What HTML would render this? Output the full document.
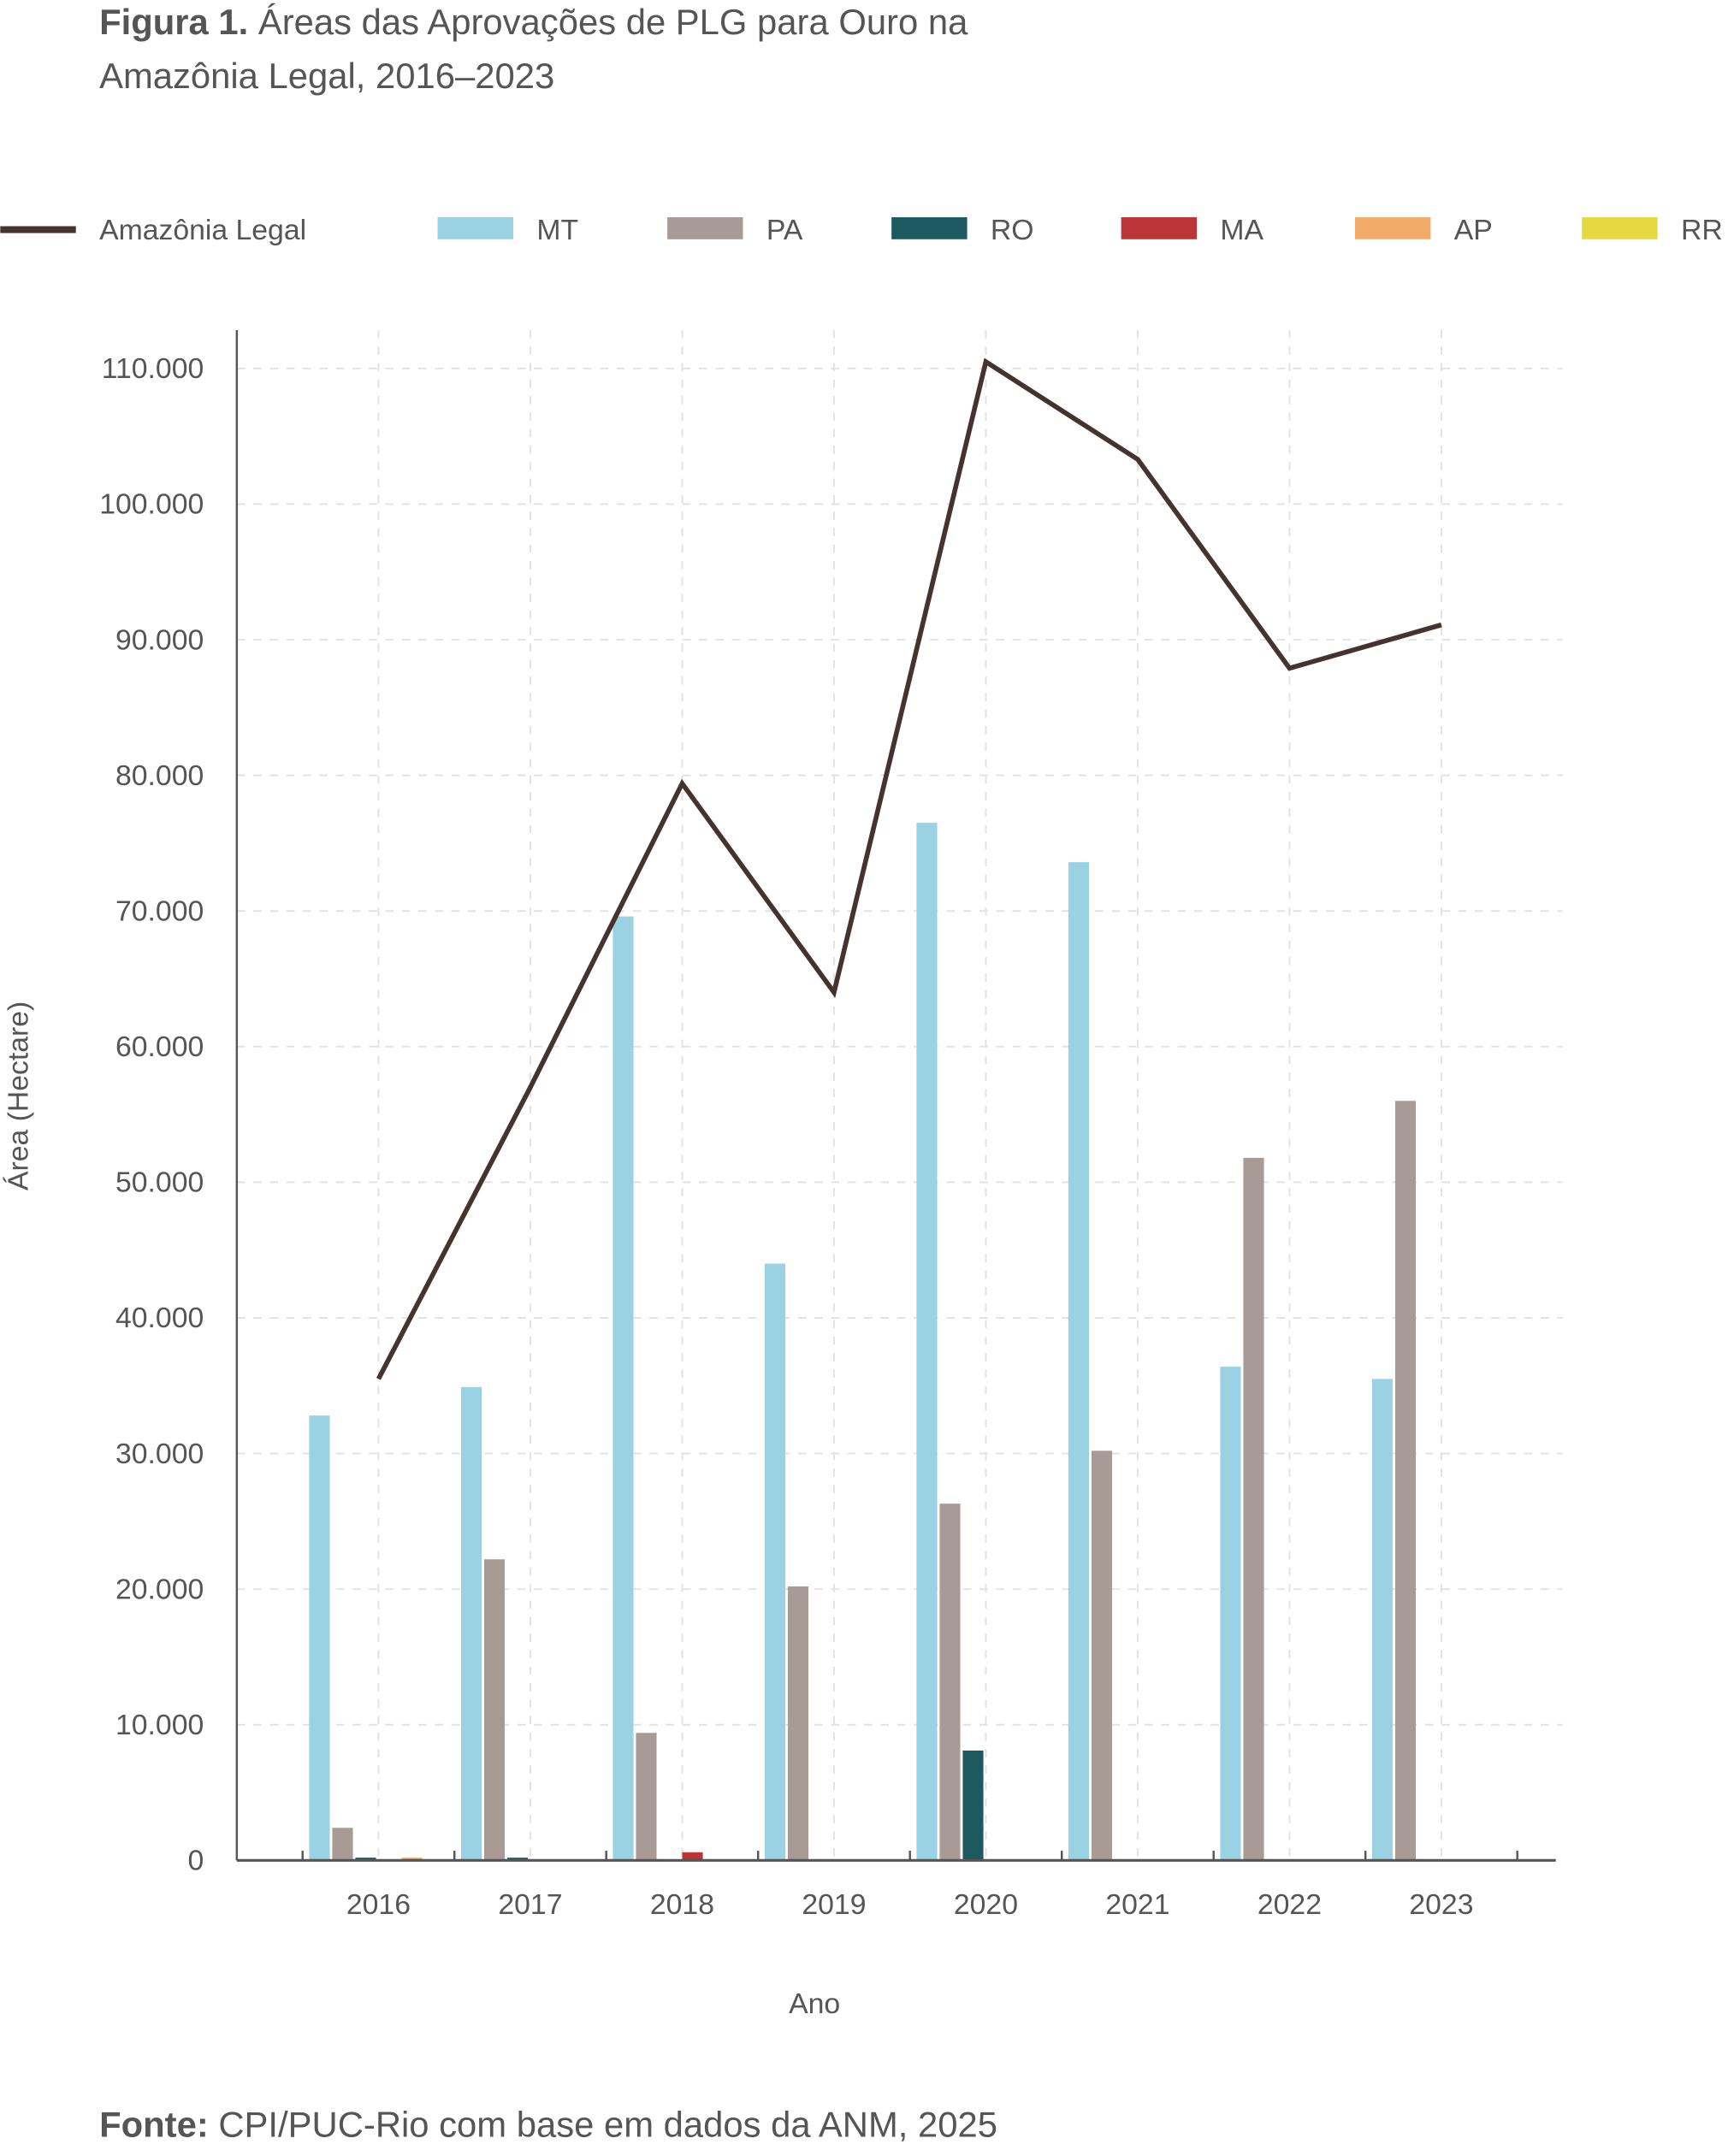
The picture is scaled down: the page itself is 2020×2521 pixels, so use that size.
<!DOCTYPE html>
<html><head><meta charset="utf-8"><style>
html,body{margin:0;padding:0;background:#fff;}
svg{display:block;font-family:"Liberation Sans",sans-serif;}
</style></head><body>
<svg id="chart" width="2020" height="2521" viewBox="0 0 1256 1568" xmlns="http://www.w3.org/2000/svg">
<text x="72" y="25" font-size="26" fill="#555"><tspan font-weight="bold">Figura 1.</tspan> Áreas das Aprovações de PLG para Ouro na</text>
<text x="72" y="64" font-size="26" fill="#555">Amazônia Legal, 2016–2023</text>
<g id="legend"></g>
<g id="grid"></g>
<g id="bars"></g>
<g id="axes"></g>
<g id="line"></g>
<text transform="translate(20,797) rotate(-90)" text-anchor="middle" font-size="21" fill="#555">Área (Hectare)</text>
<text x="592" y="1464" text-anchor="middle" font-size="21" fill="#555">Ano</text>
<text x="72" y="1554" font-size="26" fill="#555"><tspan font-weight="bold">Fonte:</tspan> CPI/PUC-Rio com base em dados da ANM, 2025</text>
</svg>
<script>
const years = ['2016','2017','2018','2019','2020','2021','2022','2023'];
const seriesNames = ['MT','PA','RO','MA','AP','RR'];
const seriesColors = ['#9ad2e4','#a89a95','#1d5a60','#bb3535','#f2ab69','#e5d840'];
const mt = [32800,34900,69600,44000,76500,73600,36400,35500];
const pa = [2400,22200,9400,20200,26300,30200,51800,56000];
const ro = [200,200,0,0,8100,0,0,0];
const ma = [0,0,600,0,0,0,0,0];
const ap = [200,0,0,0,0,0,0,0];
const rr = [0,0,0,0,0,0,0,0];
const total = [35500,57000,79400,64000,110500,103300,87900,91100];
const yTicks = [0,10000,20000,30000,40000,50000,60000,70000,80000,90000,100000,110000];
const yTickLabels = ['0','10.000','20.000','30.000','40.000','50.000','60.000','70.000','80.000','90.000','100.000','110.000'];

const NS='http://www.w3.org/2000/svg';
const y0=1353, y110=268, yMax=110000;
const yScale=v=>y0-(v/yMax)*(y0-y110);
const x0=275, step=110.4;
const xScale=i=>x0+i*step;
const slot=16.8, bw=15;
function mk(tag,attrs,parent){const e=document.createElementNS(NS,tag);for(const k in attrs)e.setAttribute(k,attrs[k]);parent.appendChild(e);return e;}
const grid=document.getElementById('grid'),bars=document.getElementById('bars'),axes=document.getElementById('axes'),lineG=document.getElementById('line'),legend=document.getElementById('legend');
yTicks.forEach((t,i)=>{
  if(t>0){const g=mk('line',{x1:172,x2:1136,y1:yScale(t),y2:yScale(t),stroke:'#e2e2e2','stroke-width':1.2,'stroke-dasharray':'6 6'},grid);
  
  }
  const tx=mk('text',{x:148,y:yScale(t)+7,'text-anchor':'end','font-size':21,fill:'#555'},axes);
  tx.textContent=yTickLabels[i];
  
  
});
years.forEach((yr,i)=>{
  const g=mk('line',{x1:xScale(i),x2:xScale(i),y1:240,y2:1353,stroke:'#e2e2e2','stroke-width':1.2,'stroke-dasharray':'6 6'},grid);
  
  
  const tx=mk('text',{x:xScale(i),y:1392,'text-anchor':'middle','font-size':21,fill:'#555'},axes);
  tx.textContent=yr;
  
  
});
const allSeries=[mt,pa,ro,ma,ap,rr];
allSeries.forEach((s,si)=>{
  s.forEach((v,i)=>{
    if(v<=0)return;
    const bx=xScale(i)+(si-3)*slot;
    const r=mk('rect',{x:bx,y:yScale(v),width:bw,height:y0-yScale(v),fill:seriesColors[si]},bars);
    
    
  });
});
const ya=mk('line',{x1:172,x2:172,y1:240,y2:1353,stroke:'#555','stroke-width':1.5},axes);


const xa=mk('line',{x1:172,x2:1131,y1:1353,y2:1353,stroke:'#555','stroke-width':2},axes);


for(let i=0;i<=years.length;i++){const xx=xScale(i)-step/2;
  const tk=mk('line',{x1:xx,x2:xx,y1:1346,y2:1353,stroke:'#555','stroke-width':1.5},axes);
  
  }
const pts=total.map((v,i)=>xScale(i)+','+yScale(v)).join(' ');
const pl=mk('polyline',{points:pts,fill:'none',stroke:'#45332f','stroke-width':3.5,'stroke-linejoin':'miter'},lineG);


// legend
const ll=mk('line',{x1:0,x2:55,y1:167,y2:167,stroke:'#45332f','stroke-width':5},legend);


const lt=mk('text',{x:72,y:174,'font-size':21,fill:'#555'},legend);
lt.textContent='Amazônia Legal';


const lx=[318,485,648,815,985,1150];
seriesNames.forEach((n,i)=>{
  const r=mk('rect',{x:lx[i],y:158,width:55,height:16,fill:seriesColors[i]},legend);
  
  
  const t=mk('text',{x:lx[i]+72,y:174,'font-size':21,fill:'#555'},legend);
  t.textContent=n;
  
  
});
</script>
</body></html>
